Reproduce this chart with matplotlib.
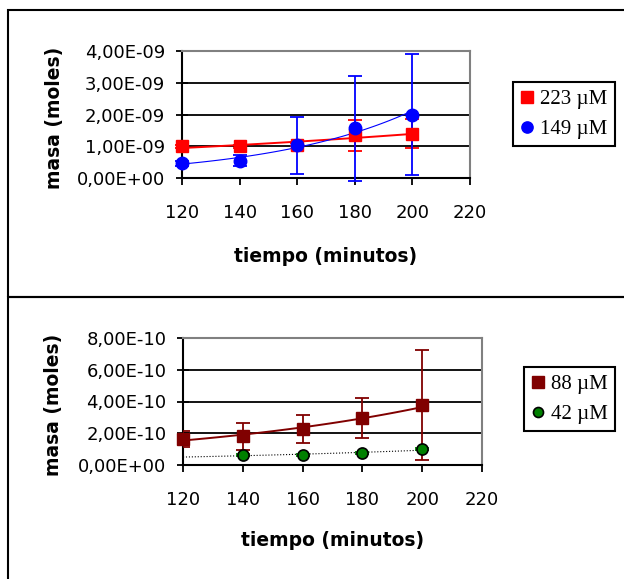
import numpy as np
import matplotlib
matplotlib.use("Agg")
import matplotlib.pyplot as plt
from matplotlib.patches import Rectangle
from matplotlib.ticker import FuncFormatter, MultipleLocator

# tiempo (minutos)
t_top = [120, 140, 160, 180, 200]
t_bot = [120, 140, 160, 180, 200]
t_42 = [140, 160, 180, 200]

# masa (moles) - upper chart
m_223 = [1.00e-9, 1.00e-9, 1.05e-9, 1.34e-9, 1.40e-9]
e_223 = [0.05e-9, 0.05e-9, 0.05e-9, 0.48e-9, 0.47e-9]
m_149 = [0.47e-9, 0.55e-9, 1.03e-9, 1.56e-9, 2.00e-9]
e_149 = [0.08e-9, 0.18e-9, 0.90e-9, 1.66e-9, 1.90e-9]

# masa (moles) - lower chart
m_88 = [1.64e-10, 1.82e-10, 2.26e-10, 2.96e-10, 3.77e-10]
e_88 = [0.48e-10, 0.85e-10, 0.90e-10, 1.25e-10, 3.45e-10]
m_42 = [0.63e-10, 0.63e-10, 0.75e-10, 1.00e-10]
e_42 = [0.04e-10, 0.04e-10, 0.04e-10, 0.04e-10]

labels_top = ["223 \u00b5M", "149 \u00b5M"]
labels_bot = ["88 \u00b5M", "42 \u00b5M"]

W, H = 624, 579
fig = plt.figure(figsize=(W / 100, H / 100), dpi=100)


def sci(v, pos):
    return f"{v:.2E}".replace(".", ",")


def trend(ax, x, y, color, lw, ls="-"):
    # exponential trend line, like the spreadsheet one
    p = np.polyfit(x, np.log(y), 1)
    xs = np.linspace(120, 200, 60)
    ax.plot(xs, np.exp(np.polyval(p, xs)), color=color, lw=lw, ls=ls, zorder=3)


def style(ax, ymax, ystep, ylab_x, xlab_y):
    ax.set_xlim(120, 220)
    ax.set_ylim(0, ymax)
    ax.xaxis.set_major_locator(MultipleLocator(20))
    ax.yaxis.set_major_locator(MultipleLocator(ystep))
    ax.yaxis.set_major_formatter(FuncFormatter(sci))
    ax.yaxis.grid(True, color="black", lw=1.3)
    ax.set_axisbelow(True)
    for s in ["top", "right"]:
        ax.spines[s].set_color("#808080")
        ax.spines[s].set_linewidth(1.5)
    for s in ["left", "bottom"]:
        ax.spines[s].set_color("black")
        ax.spines[s].set_linewidth(1.5)
    ax.tick_params(axis="y", direction="inout", length=8, width=1.3,
                   labelsize=13, pad=8)
    ax.tick_params(axis="x", direction="out", length=5, width=1.3,
                   labelsize=13, pad=14)
    ax.set_xlabel("tiempo (minutos)", fontsize=13.5, fontweight="bold")
    ax.xaxis.set_label_coords(0.5, xlab_y)
    ax.set_ylabel("masa (moles)", fontsize=13.5, fontweight="bold")
    ax.yaxis.set_label_coords(ylab_x, 0.47)


def legend(ax, x0, y0):
    leg = ax.legend(loc="upper left", bbox_to_anchor=(x0 / W, 1 - y0 / H),
                    bbox_transform=fig.transFigure, borderaxespad=0,
                    prop={"family": "Liberation Serif", "size": 15},
                    fancybox=False, edgecolor="black", framealpha=1,
                    handlelength=0.6, handletextpad=0.35, borderpad=0.35,
                    labelspacing=0.5, markerscale=0.9)
    leg.get_frame().set_linewidth(1.5)


# outer chart frames
fig.patches.append(Rectangle((8 / W, 1 - 297 / H), 1, 287 / H, fill=False,
                             ec="black", lw=1.5, transform=fig.transFigure))
fig.patches.append(Rectangle((8 / W, -0.1), 1, 0.1 + 1 - 297 / H, fill=False,
                             ec="black", lw=1.5, transform=fig.transFigure))

# upper chart
ax1 = fig.add_axes([182 / W, 1 - 178 / H, 288 / W, 127 / H])
style(ax1, 4e-9, 1e-9, -0.41, -0.54)
trend(ax1, t_top, m_223, "red", 1.4)
trend(ax1, t_top, m_149, "blue", 0.8)
ax1.errorbar(t_top, m_223, yerr=e_223, fmt="none", ecolor="red", elinewidth=1.3,
             capsize=5, capthick=1.3, clip_on=False, zorder=4)
ax1.errorbar(t_top, m_149, yerr=e_149, fmt="none", ecolor="blue", elinewidth=1.3,
             capsize=5, capthick=1.3, clip_on=False, zorder=4)
ax1.plot(t_top, m_223, ls="none", marker="s", ms=9, color="red",
         label=labels_top[0], zorder=5, clip_on=False)
ax1.plot(t_top, m_149, ls="none", marker="o", ms=9, color="blue",
         label=labels_top[1], zorder=6, clip_on=False)
legend(ax1, 513, 82)

# lower chart
ax2 = fig.add_axes([183 / W, 1 - 465 / H, 299 / W, 127 / H])
style(ax2, 8e-10, 2e-10, -0.40, -0.52)
trend(ax2, t_bot, m_88, "#800000", 1.4)
trend(ax2, t_42, m_42, "black", 0.8, ls=":")
ax2.errorbar(t_bot, m_88, yerr=e_88, fmt="none", ecolor="#800000",
             elinewidth=1.3, capsize=5, capthick=1.3, zorder=4)
ax2.errorbar(t_42, m_42, yerr=e_42, fmt="none", ecolor="#008000",
             elinewidth=1.3, capsize=5, capthick=1.3, zorder=4)
ax2.plot(t_bot, m_88, ls="none", marker="s", ms=9, color="#800000",
         label=labels_bot[0], zorder=5, clip_on=False)
ax2.plot(t_42, m_42, ls="none", marker="o", ms=8, mfc="#008000", mec="black",
         mew=1.2, label=labels_bot[1], zorder=6)
legend(ax2, 524, 367)

fig.savefig("out.png", dpi=100)
